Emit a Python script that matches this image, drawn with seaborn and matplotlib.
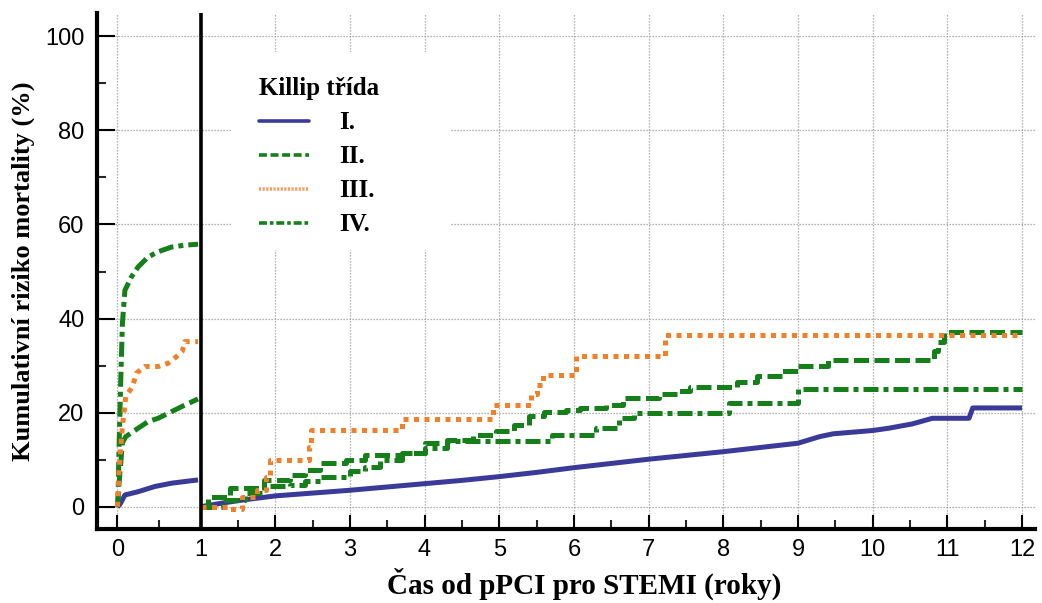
import numpy as np
import pandas as pd
import matplotlib
matplotlib.use("Agg")
import matplotlib.pyplot as plt
from matplotlib.lines import Line2D
from matplotlib.patches import Rectangle
import seaborn as sns

# ---------------- data ----------------
classes = ["I.", "II.", "III.", "IV."]
legend_title = "Killip třída"
x_label = "Čas od pPCI pro STEMI (roky)"
y_label = "Kumulativní riziko mortality (%)"
x_ticks = list(range(0, 13))
y_ticks = [0, 20, 40, 60, 80, 100]

# first year (0-1)
t1_I = [0, 0.02, 0.04, 0.09, 0.25, 0.45, 0.65, 0.97]
v1_I = [0, 0.3, 0.8, 2.5, 3.2, 4.3, 5.0, 5.7]
t1_II = [0, 0.01, 0.02, 0.04, 0.06, 0.10, 0.25, 0.37, 0.49, 0.65, 0.81, 0.97]
v1_II = [0, 2.0, 5.0, 9.3, 13.6, 14.9, 16.7, 18.1, 18.8, 20.2, 21.6, 22.9]
t1_III = [0, 0.01, 0.02, 0.06, 0.10, 0.18, 0.23, 0.33, 0.49, 0.61, 0.71, 0.78, 0.81, 0.97]
v1_III = [0, 3.0, 7.9, 17.0, 23.4, 25.5, 28.4, 29.8, 29.8, 30.5, 31.9, 33.0, 35.1, 35.1]
t1_IV = [0, 0.005, 0.02, 0.04, 0.06, 0.09, 0.17, 0.25, 0.37, 0.49, 0.65, 0.81, 0.97]
v1_IV = [0, 0.8, 12.8, 27.0, 39.0, 46.0, 48.9, 51.0, 53.1, 54.2, 55.2, 55.6, 55.8]

# after first year (1-12), landmark
t2_I = [1, 1.3, 1.6, 2, 2.5, 3, 3.5, 4, 4.5, 5, 5.5, 6, 6.5, 7, 7.5, 8, 8.5, 9,
        9.29, 9.47, 10, 10.22, 10.53, 10.8, 11.29, 11.34, 12]
v2_I = [0, 0.8, 1.5, 2.3, 2.9, 3.5, 4.2, 4.9, 5.6, 6.4, 7.3, 8.3, 9.2, 10.1, 10.9,
        11.7, 12.6, 13.5, 14.9, 15.5, 16.2, 16.7, 17.6, 18.8, 18.8, 21.0, 21.0]
t2_II = [1, 1.1, 1.4, 1.85, 2.2, 2.4, 2.6, 2.95, 3.2, 3.7, 4.0, 4.3, 4.65, 4.95, 5.2,
         5.4, 5.6, 5.9, 6.08, 6.43, 6.66, 7.14, 7.4, 7.55, 8.18, 8.45, 8.78, 9.0,
         9.4, 10.82, 10.88, 10.95, 12]
v2_II = [0, 2.0, 4.0, 5.7, 6.8, 7.8, 9.3, 10.0, 11.0, 11.5, 13.5, 14.2, 15.3, 16.0,
         17.4, 19.2, 20.2, 20.5, 21.0, 21.7, 23.1, 23.9, 24.6, 25.5, 26.6, 27.7,
         28.9, 30.0, 31.2, 33.0, 35.0, 37.2, 37.2]
t2_III = [1, 1.35, 1.56, 1.75, 1.88, 1.93, 2.42, 2.45, 2.48, 3.70, 4.92, 5.43,
          5.50, 5.58, 6.03, 7.22, 12]
v2_III = [0, -0.4, 2.0, 3.5, 6.4, 10.0, 10.0, 12.8, 16.3, 18.6, 21.7, 24.0,
          25.9, 28.0, 32.0, 36.5, 36.5]
t2_IV = [1, 1.3, 1.6, 1.85, 2.2, 2.4, 2.6, 3.0, 3.2, 3.4, 3.7, 4.0, 4.3, 5.7,
         6.3, 6.6, 6.8, 8.07, 9.0, 12]
v2_IV = [0, 1.5, 3.0, 4.3, 4.6, 5.4, 6.4, 7.5, 8.5, 10.0, 11.5, 12.5, 13.9, 15.3,
         16.8, 18.9, 19.9, 22.1, 25.0, 25.0]

# ---------------- styles ----------------
colors = {"I.": "#3a3a98", "II.": "#15801a", "III.": "#f0802a", "IV.": "#15801a"}
dashes = {"I.": None, "II.": (3, 1.1), "III.": (1, 1.1), "IV.": (3, 1, 1, 1)}
LW = 3.6

sns.set_theme(style="white")
plt.rcParams["font.family"] = ["Liberation Sans", "DejaVu Sans"]
plt.rcParams["text.color"] = "black"
plt.rcParams["axes.labelcolor"] = "black"
serif = ["Liberation Serif", "DejaVu Serif"]

fig = plt.figure(figsize=(10.42, 6.03), dpi=100)
ax = fig.add_axes([0.093, 0.123, 0.900, 0.855])

K = 83.0 / 74.6


def fwd(x):
    x = np.asarray(x, float)
    return np.where(x < 1, x * K, K + (x - 1))


def inv(u):
    u = np.asarray(u, float)
    return np.where(u < K, u / K, 1 + (u - K))


ax.set_xscale("function", functions=(fwd, inv))

segments = {
    "I.": [(t1_I, v1_I, None), (t2_I, v2_I, None)],
    "II.": [(t1_II, v1_II, None), (t2_II, v2_II, "steps-post")],
    "III.": [(t1_III, v1_III, None), (t2_III, v2_III, "steps-post")],
    "IV.": [(t1_IV, v1_IV, None), (t2_IV, v2_IV, "steps-post")],
}

for cls in ["I.", "IV.", "II.", "III."]:
    for t, v, ds in segments[cls]:
        kw = dict(color=colors[cls], lw=LW, ax=ax, legend=False, sort=False,
                  estimator=None)
        if ds:
            kw["drawstyle"] = ds
        sns.lineplot(x=t, y=v, **kw)
        ln = ax.lines[-1]
        if dashes[cls] is not None:
            ln.set_dashes(dashes[cls])
        ln.set_solid_capstyle("butt")
        ln.set_dash_capstyle("butt")

ax.axvline(1, color="black", lw=2.6, zorder=5)

ax.set_xlim(-0.247, 12.17)
ax.set_ylim(-4.7, 104.9)
ax.set_xticks(x_ticks)
ax.set_xticklabels([str(t) for t in x_ticks])
ax.set_xticks(np.arange(0.5, 12, 1.0), minor=True)
ax.set_yticks(y_ticks)
ax.set_yticklabels([str(t) for t in y_ticks])
ax.set_yticks([10, 30, 50, 70, 90], minor=True)

ax.grid(True, which="major", color="#9a9a9a", lw=0.9, linestyle=(0, (1, 1.4)))
ax.set_axisbelow(True)

# white background behind the legend (hides the grid there)
ax.add_patch(Rectangle((0.144, 0.540), 0.232, 0.384, transform=ax.transAxes,
                       facecolor="white", edgecolor="none", zorder=1))

for s in ["top", "right"]:
    ax.spines[s].set_visible(False)
for s in ["left", "bottom"]:
    ax.spines[s].set_linewidth(3)
    ax.spines[s].set_color("black")

ax.tick_params(axis="x", which="major", direction="in", length=10, width=1.5,
               labelsize=17, pad=7, colors="black")
ax.tick_params(axis="x", which="minor", direction="in", length=6.5, width=1.5)
ax.tick_params(axis="y", which="major", direction="in", length=13, width=1.5,
               labelsize=17, pad=9, colors="black")
ax.tick_params(axis="y", which="minor", direction="in", length=6.5, width=1.5)
ax.tick_params(bottom=True, left=True, which="both")

ax.set_xlabel(x_label, fontsize=21, fontweight="bold", family=serif)
ax.xaxis.set_label_coords(0.52, -0.076)
ax.set_ylabel(y_label, fontsize=19, fontweight="bold", family=serif, labelpad=7)

handles = [
    Line2D([], [], color=colors["I."], lw=2.6),
    Line2D([], [], color=colors["II."], lw=2.6, dashes=(2.2, 1)),
    Line2D([], [], color="#f5a066", lw=2.6, dashes=(0.6, 0.4)),
    Line2D([], [], color=colors["IV."], lw=2.6, dashes=(2.2, 0.8, 1, 0.8)),
]
leg = ax.legend(handles, classes, title=legend_title, loc="upper left",
                bbox_to_anchor=(0.16, 0.90), frameon=False,
                prop={"family": serif, "weight": "bold", "size": 18},
                handlelength=2.0, handletextpad=1.2, labelspacing=0.44,
                borderpad=0.0)
leg.get_title().set_fontfamily(serif)
leg.get_title().set_fontweight("bold")
leg.get_title().set_fontsize(18)
leg._legend_box.align = "left"
leg.set_zorder(6)

fig.savefig("out.png", dpi=100)
